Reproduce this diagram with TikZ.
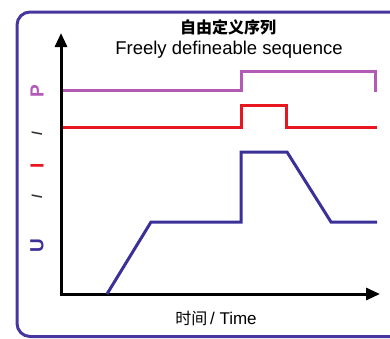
\documentclass[tikz,border=0pt]{standalone}
\usepackage{fontspec}
\setmainfont{Liberation Sans}
\newfontfamily\cjk{Noto Sans CJK SC}
\usetikzlibrary{arrows.meta}
\definecolor{framec}{HTML}{4836A0}
\definecolor{pcol}{HTML}{B25AB4}
\definecolor{icol}{HTML}{E8161E}
\definecolor{ucol}{HTML}{3B2F98}
\definecolor{slashc}{HTML}{333333}
\tikzset{
  axis/.style={line width=3pt, -{Triangle[length=14pt,width=12pt]}},
  sig/.style={line width=3pt, line join=miter},
  lab/.style={rotate=90, font=\fontsize{19}{22}\selectfont\bfseries, inner sep=0pt},
  slashlab/.style={rotate=90, font=\fontsize{14}{16}\selectfont\bfseries, text=slashc, inner sep=0pt}
}
\begin{document}
\begin{tikzpicture}[x=1pt,y=-1pt]
\useasboundingbox (0,0) rectangle (390,338);
\clip (0,0) rectangle (390,338);
\draw[framec, line width=3pt, rounded corners=13pt] (17,12) rectangle (404,336.5);
% titles
\node[font=\cjk\bfseries\fontsize{16}{18}\selectfont, inner sep=0pt] (t1) at (228,27) {自由定义序列};
\node[font=\fontsize{18.5}{22}\selectfont, inner sep=0pt] (t2) at (229,50) {Freely defineable sequence};
\node[inner sep=0pt] (xl) at (216,318) {{\cjk\fontsize{16}{18}\selectfont 时间} {\fontsize{17}{20}\selectfont / Time}};
% y labels
\node[lab, text=ucol] (lu) at (37,246) {U};
\node[slashlab] (s1) at (37,197) {/};
\node[lab, text=icol] (li) at (37,166) {I};
\node[slashlab] (s2) at (37,134) {/};
\node[lab, text=pcol] (lp) at (37,91) {P};
% axes
\coordinate (o) at (61,294);
\coordinate (ytop) at (61,33);
\coordinate (xend) at (380,294);
\draw[axis] (61,295.5) -- (ytop);
\draw[axis] (59.5,294) -- (xend);
% P
\draw[sig, pcol] (63,90) -- (241,90) -- (241,71) -- (375,71) -- (375,92);
% I
\draw[sig, icol] (63,127) -- (241,127) -- (241,105) -- (286,105) -- (286,127) -- (377,127);
% U
\draw[sig, ucol] (107,294) -- (151,222) -- (241,222) -- (241,152) -- (287,152) -- (331,222) -- (377,222);
\end{tikzpicture}
\end{document}
